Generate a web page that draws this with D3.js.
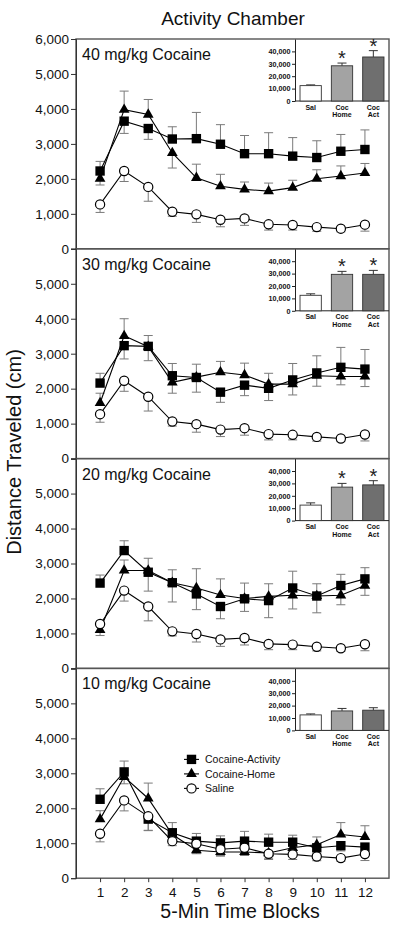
<!DOCTYPE html>
<html><head><meta charset="utf-8">
<script src="https://cdn.jsdelivr.net/npm/d3@7"></script>
<style>body{margin:0;background:#fff} svg{display:block;font-family:"Liberation Sans",Arial,sans-serif}</style>
</head><body><svg id="c" width="400" height="930"></svg>
<script>
// ---------- DATA ----------
const blocks = [1,2,3,4,5,6,7,8,9,10,11,12];
const yTicks = [0,1000,2000,3000,4000,5000,6000];
const panelLabels = ["40 mg/kg Cocaine","30 mg/kg Cocaine","20 mg/kg Cocaine","10 mg/kg Cocaine"];
const seriesNames = ["Cocaine-Activity","Cocaine-Home","Saline"];

// Saline (same group in every panel); signed SEM: negative = bar drawn downward
const saline    = [1270,2225,1770,1060,985,830,870,700,680,620,575,690];
const salineErr = [-230,-300,-410,-130,-230,-200,-200,-165,-145,-120,-90,-185];

// 40 mg/kg
const act40     = [2225,3650,3440,3140,3150,2990,2720,2720,2650,2610,2790,2840];
const act40Err  = [275,-350,-310,350,750,560,520,600,530,480,480,560];
const home40    = [2005,3980,3840,2740,2030,1790,1700,1650,1750,2005,2080,2170];
const home40Err = [-180,530,430,-430,390,340,210,230,210,255,290,270];
// 30 mg/kg
const act30     = [2160,3230,3210,2370,2320,1900,2100,2010,2250,2450,2610,2560];
const act30Err  = [280,-380,310,350,-420,-290,-300,-350,470,490,570,560];
const home30    = [1590,3510,3200,2180,2330,2470,2390,2130,2130,2370,2350,2350];
const home30Err = [280,490,-400,-310,370,310,340,310,-310,-300,-240,-290];
// 20 mg/kg
const act20     = [2440,3370,2750,2450,2130,1770,1990,1940,2300,2070,2370,2560];
const act20Err  = [230,280,400,-550,-450,-350,-360,-490,480,-480,320,320];
const home20    = [1100,2800,2800,2450,2300,2100,2000,2060,2090,2070,2090,2370];
const home20Err = [-160,300,-590,370,550,460,440,360,-390,350,-270,-280];
// 10 mg/kg
const act10     = [2257,3040,1690,1300,1060,1010,1060,1030,1030,870,930,890];
const act10Err  = [300,310,-320,290,220,200,280,230,200,-170,-150,-150];
const home10    = [1690,2900,2280,1250,800,750,750,720,870,960,1250,1180];
const home10Err = [240,-200,440,-200,-100,-100,-100,-150,-120,220,340,320];

// Insets: total distance
const insetCats   = ["Sal","Coc Home","Coc Act"];
const insetTicks  = [0,10000,20000,30000,40000];
const inset40     = [12400,28400,35500];
const inset40Err  = [600,2200,5100];
const inset30     = [12500,29400,29400];
const inset30Err  = [1200,2400,3200];
const inset20     = [12500,27000,28800];
const inset20Err  = [1800,3000,3400];
const inset10     = [12500,15700,16300];
const inset10Err  = [800,2000,2000];
const insetSig40  = [false,true,true];
const insetSig30  = [false,true,true];
const insetSig20  = [false,true,true];
const insetSig10  = [false,false,false];

// ---------- BUILD ----------
const panels = [
  {label:panelLabels[0], act:act40, actErr:act40Err, home:home40, homeErr:home40Err, ins:inset40, insErr:inset40Err, sig:insetSig40},
  {label:panelLabels[1], act:act30, actErr:act30Err, home:home30, homeErr:home30Err, ins:inset30, insErr:inset30Err, sig:insetSig30},
  {label:panelLabels[2], act:act20, actErr:act20Err, home:home20, homeErr:home20Err, ins:inset20, insErr:inset20Err, sig:insetSig20},
  {label:panelLabels[3], act:act10, actErr:act10Err, home:home10, homeErr:home10Err, ins:inset10, insErr:inset10Err, sig:insetSig10}
];

const svg = d3.select("#c");
const left = 76, right = 389, top0 = 39, pH = 209.8;
const x = d3.scaleLinear().domain([0,13]).range([left,right]);
const fmt = d3.format(",");
const errColor = "#7a7a7a";

const markerSq = d3.symbol().type(d3.symbolSquare).size(88)();
const markerTri = d3.symbol().type(d3.symbolTriangle).size(50)();

function drawMarker(sel, kind){
  if(kind==="sq") return sel.append("path").attr("d",markerSq).attr("fill","#000");
  if(kind==="tri") return sel.append("path").attr("d",markerTri).attr("fill","#000");
  return sel.append("circle").attr("r",4.6).attr("fill","#fff").attr("stroke","#000").attr("stroke-width",1.2);
}

svg.append("text").attr("x",233).attr("y",25).attr("text-anchor","middle")
  .attr("font-size",19).attr("fill","#111").text("Activity Chamber");

svg.append("text").attr("transform","translate(21,452) rotate(-90)").attr("text-anchor","middle")
  .attr("font-size",20).attr("fill","#111").text("Distance Traveled (cm)");

panels.forEach((p,i)=>{
  const t = top0 + i*pH, b = t + pH;
  const y = d3.scaleLinear().domain([0,6000]).range([b,t]);
  const g = svg.append("g");

  g.append("rect").attr("x",left).attr("y",t).attr("width",right-left).attr("height",pH)
    .attr("fill","none").attr("stroke","#555").attr("stroke-width",1.4);

  const ax = d3.axisLeft(y).tickValues(yTicks).tickSize(5).tickPadding(2)
    .tickFormat(d => (i>0 && d===6000) ? "" : fmt(d));
  const ag = g.append("g").attr("transform",`translate(${left},0)`).call(ax);
  ag.select(".domain").attr("stroke","#333");
  ag.selectAll(".tick line").attr("stroke","#333");
  ag.selectAll("text").attr("font-size",13.5).attr("fill","#111").attr("font-family",null);

  if(i===panels.length-1){
    const bx = d3.axisBottom(x).tickValues(blocks).tickSize(4).tickPadding(5).tickFormat(d3.format("d"));
    const bg = g.append("g").attr("transform",`translate(0,${b})`).call(bx);
    bg.select(".domain").remove();
    bg.selectAll(".tick line").attr("stroke","#333");
    bg.selectAll("text").attr("font-size",13.5).attr("fill","#111").attr("font-family",null);
    svg.append("text").attr("x",240).attr("y",918).attr("text-anchor","middle")
      .attr("font-size",19.5).attr("fill","#111").text("5-Min Time Blocks");
  }

  g.append("text").attr("x",82).attr("y",t+21).attr("font-size",16).attr("fill","#111").text(p.label);

  // ---- inset ----
  const ix0 = 295, ix1 = right, iy0 = t + 62;
  const iy = d3.scaleLinear().domain([0,50000]).range([iy0,t]);
  const xb = d3.scaleBand().domain(insetCats).range([ix0,ix1]).paddingInner(0.32).paddingOuter(0.16);
  const ia = d3.axisLeft(iy).tickValues(insetTicks).tickSize(3).tickSizeOuter(0).tickPadding(1.5).tickFormat(fmt);
  const iag = g.append("g").attr("transform",`translate(${ix0},0)`).call(ia);
  iag.select(".domain").attr("stroke","#222");
  iag.selectAll(".tick line").attr("stroke","#222");
  iag.selectAll("text").attr("font-size",7.2).attr("font-weight","bold").attr("fill","#111").attr("font-family",null);
  g.append("line").attr("x1",ix0).attr("x2",ix1).attr("y1",iy0).attr("y2",iy0).attr("stroke","#222").attr("stroke-width",1);

  const fills = ["#ffffff","#a3a3a3","#6f6f6f"];
  insetCats.forEach((c,k)=>{
    const bx0 = xb(c), bw = xb.bandwidth(), cx = bx0 + bw/2;
    const v = p.ins[k], e = p.insErr[k];
    g.append("line").attr("x1",cx).attr("x2",cx).attr("y1",iy(v)).attr("y2",iy(v+e)).attr("stroke","#333").attr("stroke-width",1);
    g.append("line").attr("x1",cx-4.5).attr("x2",cx+4.5).attr("y1",iy(v+e)).attr("y2",iy(v+e)).attr("stroke","#333").attr("stroke-width",1);
    g.append("rect").attr("x",bx0).attr("y",iy(v)).attr("width",bw).attr("height",iy0-iy(v))
      .attr("fill",fills[k]).attr("stroke","#333").attr("stroke-width",0.9);
    if(p.sig[k]){
      g.append("text").attr("x",cx).attr("y",iy(v+e)+2).attr("text-anchor","middle")
        .attr("font-size",20).attr("fill","#222").text("*");
    }
    const words = c.split(" ");
    const tx = g.append("text").attr("x",cx).attr("y",iy0+8.5).attr("text-anchor","middle")
      .attr("font-size",7).attr("font-weight","bold").attr("fill","#111");
    words.forEach((w,j)=>tx.append("tspan").attr("x",cx).attr("dy",j===0?0:7.5).text(w));
  });

  // ---- series ----
  const series = [
    {vals:p.home, err:p.homeErr, kind:"tri"},
    {vals:p.act, err:p.actErr, kind:"sq"},
    {vals:saline, err:salineErr, kind:"circ"}
  ];
  const eg = g.append("g");
  series.forEach(s=>{
    blocks.forEach((bk,j)=>{
      const v = s.vals[j], e = s.err[j], xx = x(bk);
      eg.append("line").attr("x1",xx).attr("x2",xx).attr("y1",y(v)).attr("y2",y(v+e)).attr("stroke",errColor).attr("stroke-width",1);
      eg.append("line").attr("x1",xx-4.5).attr("x2",xx+4.5).attr("y1",y(v+e)).attr("y2",y(v+e)).attr("stroke",errColor).attr("stroke-width",1);
    });
  });
  const line = d3.line().x((d,j)=>x(blocks[j])).y(d=>y(d));
  series.forEach(s=>{
    g.append("path").attr("d",line(s.vals)).attr("fill","none").attr("stroke","#000").attr("stroke-width",1.1);
  });
  series.forEach(s=>{
    blocks.forEach((bk,j)=>{
      const mg = g.append("g").attr("transform",`translate(${x(bk)},${y(s.vals[j])})`);
      drawMarker(mg, s.kind);
    });
  });

  // ---- legend (bottom panel) ----
  if(i===panels.length-1){
    const kinds = ["sq","tri","circ"];
    seriesNames.forEach((n,k)=>{
      const ly = t + 91 + k*14.5;
      g.append("line").attr("x1",184).attr("x2",199).attr("y1",ly).attr("y2",ly).attr("stroke","#000").attr("stroke-width",1.1);
      drawMarker(g.append("g").attr("transform",`translate(191.5,${ly})`), kinds[k]);
      g.append("text").attr("x",205).attr("y",ly+3.7).attr("font-size",10.5).attr("fill","#111").text(n);
    });
  }
});
</script></body></html>
